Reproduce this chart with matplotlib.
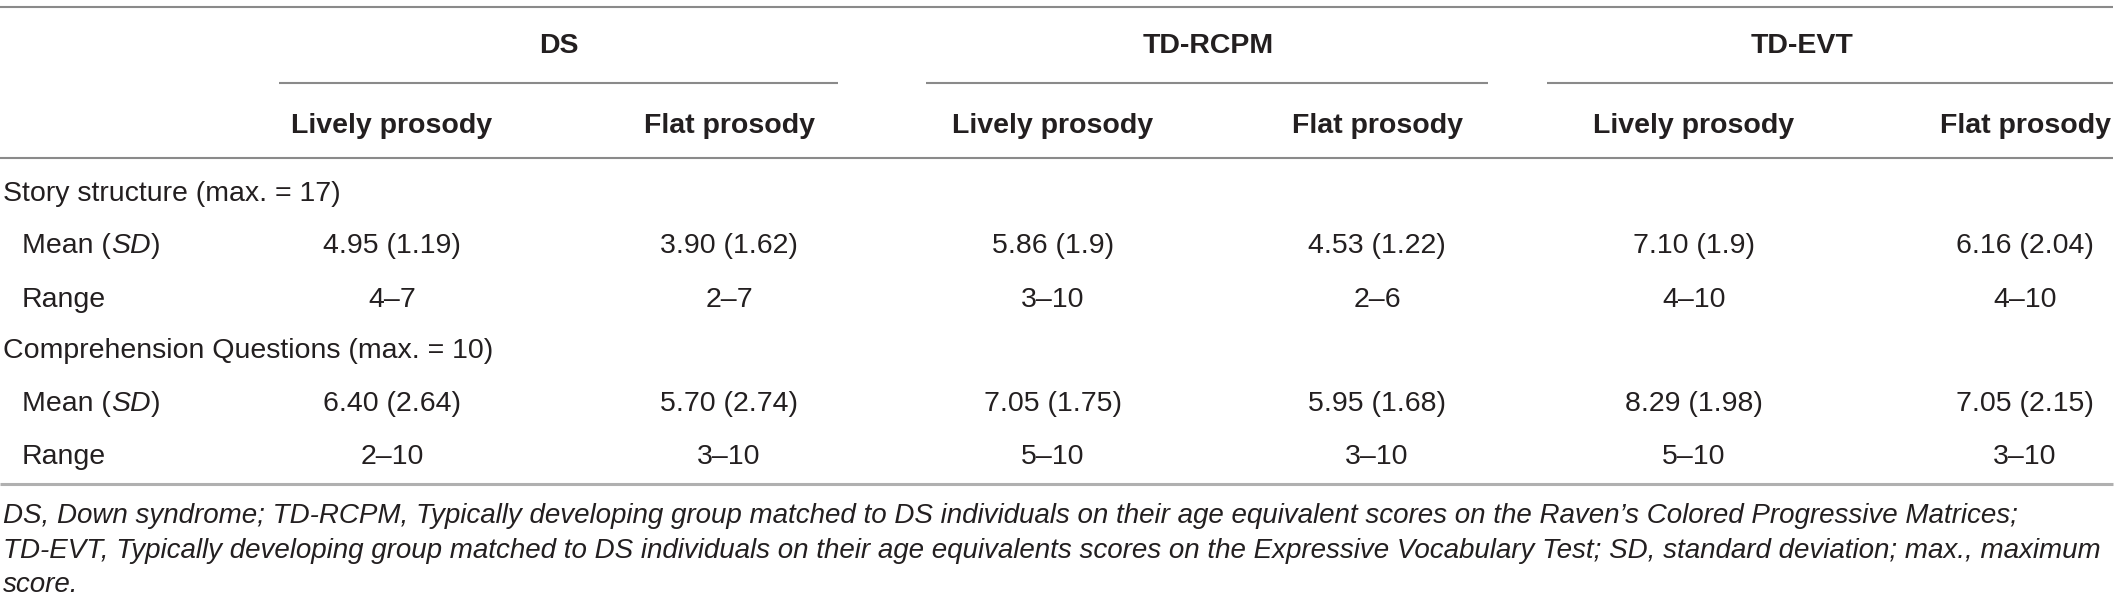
import matplotlib
matplotlib.use("Agg")
import matplotlib.pyplot as plt

# ---------------- data ----------------
groups = ["DS", "TD-RCPM", "TD-EVT"]
conditions = ["Lively prosody", "Flat prosody"]
measures = ["Story structure (max. = 17)", "Comprehension Questions (max. = 10)"]
stat_labels = ["Mean (", "SD", ")"]
range_label = "Range"

story_mean = ["4.95", "3.90", "5.86", "4.53", "7.10", "6.16"]
story_sd = ["1.19", "1.62", "1.9", "1.22", "1.9", "2.04"]
story_range = ["4–7", "2–7", "3–10", "2–6", "4–10", "4–10"]

comp_mean = ["6.40", "5.70", "7.05", "5.95", "8.29", "7.05"]
comp_sd = ["2.64", "2.74", "1.75", "1.68", "1.98", "2.15"]
comp_range = ["2–10", "3–10", "5–10", "3–10", "5–10", "3–10"]

footnote = [
    "DS, Down syndrome; TD-RCPM, Typically developing group matched to DS individuals on their age equivalent scores on the Raven’s Colored Progressive Matrices;",
    "TD-EVT, Typically developing group matched to DS individuals on their age equivalents scores on the Expressive Vocabulary Test; SD, standard deviation; max., maximum",
    "score.",
]

# ---------------- layout ----------------
W, H = 2117, 605
FONT = ["Liberation Sans", "DejaVu Sans"]
TXT = "#231f20"
LINE = "#8a8a8a"
LINE2 = "#b0b0b0"
FS = 20.5
FS_FOOT = 20

col_x = [392, 729, 1053, 1377, 1694, 2025]
grp_span = [(279, 838), (926, 1488), (1547, 2113)]
grp_x = [559, 1208, 1802]

y_top = 7
y_grp = 46
y_sub = 83
y_cond = 126
y_head = 158
y_bottom = 484
row_y = [194, 246, 300, 351, 404, 457]
foot_y = [516, 551, 585]
x_left = 3
x_indent = 22

fig = plt.figure(figsize=(W / 100, H / 100), dpi=100)
ax = fig.add_axes([0, 0, 1, 1])
ax.set_xlim(0, W)
ax.set_ylim(H, 0)
ax.axis("off")

def txt(x, y, s, ha="center", weight="normal", style="normal", size=FS):
    return ax.text(x, y, s, ha=ha, va="center", fontsize=size, family=FONT,
                   weight=weight, style=style, color=TXT)

# rules
ax.hlines(y_top, 0, 2113, color=LINE, lw=1.5)
for (a, b) in grp_span:
    ax.hlines(y_sub, a, b, color=LINE, lw=1.5)
ax.hlines(y_head, 0, 2113, color=LINE, lw=1.5)
ax.hlines(y_bottom, 0, 2113, color=LINE2, lw=2.2)

# headers
for g, gx in zip(groups, grp_x):
    txt(gx, y_grp, g, weight="bold")
for i, cx in enumerate(col_x):
    txt(cx, y_cond, conditions[i % 2], weight="bold")

# body
def mean_sd_label(y):
    t = ax.text(x_indent, y, stat_labels[0], ha="left", va="center", fontsize=FS,
                family=FONT, color=TXT)
    t2 = ax.annotate(stat_labels[1], xy=(1, 0), xycoords=t, ha="left", va="bottom",
                     fontsize=FS, family=FONT, style="italic", color=TXT)
    ax.annotate(stat_labels[2], xy=(1, 0), xycoords=t2, ha="left", va="bottom",
                fontsize=FS, family=FONT, color=TXT)

blocks = [(measures[0], story_mean, story_sd, story_range),
          (measures[1], comp_mean, comp_sd, comp_range)]
for b, (name, mean, sd, rng) in enumerate(blocks):
    y0, y1, y2 = row_y[3 * b], row_y[3 * b + 1], row_y[3 * b + 2]
    txt(x_left, y0, name, ha="left")
    mean_sd_label(y1)
    txt(x_indent, y2, range_label, ha="left")
    for i, cx in enumerate(col_x):
        txt(cx, y1, f"{mean[i]} ({sd[i]})")
        txt(cx, y2, rng[i])

for fy, line in zip(foot_y, footnote):
    txt(x_left, fy, line, ha="left", style="italic", size=FS_FOOT)

fig.savefig("out.png", dpi=100)
